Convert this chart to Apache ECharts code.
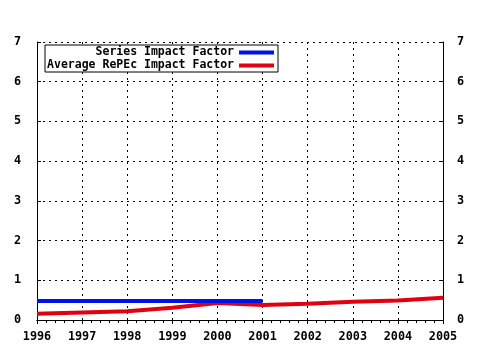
<!DOCTYPE html>
<html>
<head>
<meta charset="utf-8">
<script src="https://cdn.jsdelivr.net/npm/echarts@6/dist/echarts.min.js"></script>
<style>
  html, body { margin: 0; padding: 0; background: #fff; }
  #chart { width: 480px; height: 350px; }
</style>
</head>
<body>
<div id="chart"></div>
<script>
// Impact factor per year
const years = [1996, 1997, 1998, 1999, 2000, 2001, 2002, 2003, 2004, 2005];
const seriesImpact = [0.48, 0.48, 0.48, 0.48, 0.48, 0.48];
const averageRepec = [0.16, 0.19, 0.22, 0.31, 0.43, 0.38, 0.41, 0.46, 0.49, 0.56];
const yTicks = [0, 1, 2, 3, 4, 5, 6, 7];
const seriesNames = ['Series Impact Factor', 'Average RePEc Impact Factor'];

const FONT = 'DejaVu Sans Mono';
const labelStyle = { fontFamily: FONT, fontWeight: 'bold', fontSize: 11.8, color: '#000' };
const gridDots = { show: true, lineStyle: { color: '#000', width: 1, type: [2, 4] } };

const pairs = (xs, ys) => ys.map((v, i) => [xs[i], v]);

const chart = echarts.init(document.getElementById('chart'), null, { renderer: 'canvas' });
chart.setOption({
  animation: false,
  backgroundColor: '#fff',
  grid: { left: 37, right: 37, top: 42, bottom: 30, containLabel: false },
  legend: {
    left: 45, top: 45,
    orient: 'vertical',
    align: 'right',
    itemGap: 0,
    itemWidth: 35,
    itemHeight: 4,
    icon: 'rect',
    padding: [1, 4, 0, 0],
    backgroundColor: '#fff',
    borderColor: '#000',
    borderWidth: 1,
    data: seriesNames,
    formatter: '{t|{name}}',
    textStyle: {
      rich: {
        t: { width: 189, align: 'right', fontFamily: FONT, fontWeight: 'bold', fontSize: 11.5, lineHeight: 13, height: 13, color: '#000' }
      }
    }
  },
  xAxis: [
    {
      type: 'value', position: 'bottom',
      min: years[0], max: years[years.length - 1], interval: 1,
      axisLine: { show: true, lineStyle: { color: '#000', width: 1 } },
      axisTick: { show: true, length: 4, lineStyle: { color: '#000' } },
      minorTick: { show: true, splitNumber: 5, length: 3, lineStyle: { color: '#000' } },
      axisLabel: Object.assign({ margin: 11, formatter: v => String(v) }, labelStyle),
      splitLine: gridDots
    },
    {
      type: 'value', position: 'top',
      min: years[0], max: years[years.length - 1], interval: 1,
      axisLine: { show: true, lineStyle: { color: '#000', width: 1 } },
      axisTick: { show: true, inside: true, length: 4, lineStyle: { color: '#000' } },
      minorTick: { show: true, splitNumber: 5, length: 3, lineStyle: { color: '#000' } },
      axisLabel: { show: false },
      splitLine: { show: false }
    }
  ],
  yAxis: [
    {
      type: 'value', position: 'left',
      min: yTicks[0], max: yTicks[yTicks.length - 1], interval: 1,
      axisLine: { show: true, lineStyle: { color: '#000', width: 1 } },
      axisTick: { show: true, inside: true, length: 4, lineStyle: { color: '#000' } },
      axisLabel: Object.assign({ margin: 16 }, labelStyle),
      splitLine: gridDots
    },
    {
      type: 'value', position: 'right',
      min: yTicks[0], max: yTicks[yTicks.length - 1], interval: 1,
      axisLine: { show: true, lineStyle: { color: '#000', width: 1 } },
      axisTick: { show: true, inside: true, length: 4, lineStyle: { color: '#000' } },
      axisLabel: Object.assign({ margin: 14 }, labelStyle),
      splitLine: { show: false }
    }
  ],
  series: [
    {
      name: seriesNames[0], type: 'line',
      data: pairs(years, seriesImpact),
      showSymbol: false, symbol: 'none',
      color: '#0010e8',
      lineStyle: { width: 4, color: '#0010e8' },
      z: 3
    },
    {
      name: seriesNames[1], type: 'line',
      data: pairs(years, averageRepec),
      showSymbol: false, symbol: 'none',
      color: '#e00010',
      lineStyle: { width: 4, color: '#e00010' },
      z: 2
    }
  ]
});
</script>
</body>
</html>
